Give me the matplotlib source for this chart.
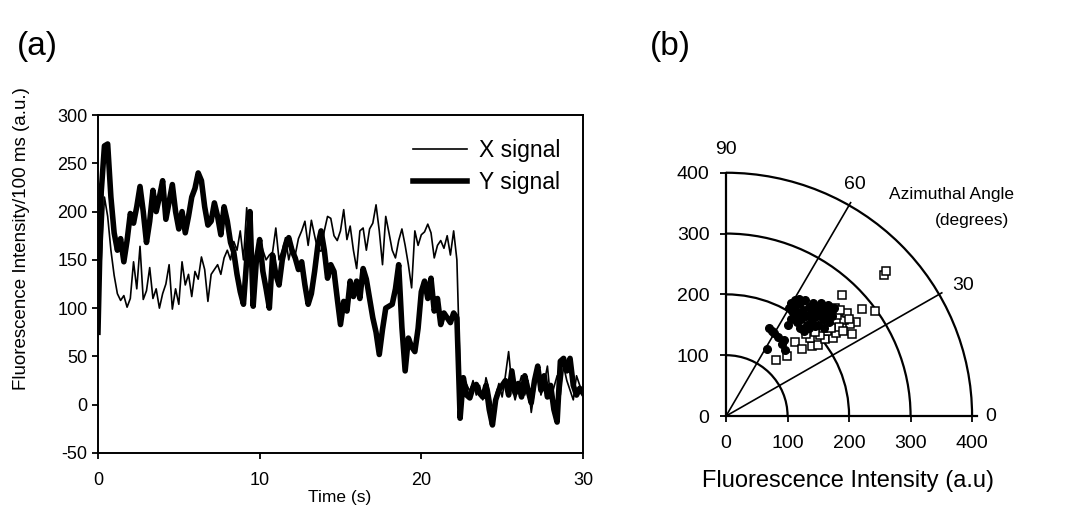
import numpy as np
import matplotlib
matplotlib.use("Agg")
import matplotlib.pyplot as plt
from matplotlib.patches import Arc

plt.rcParams["font.family"] = ["Liberation Sans", "DejaVu Sans"]
plt.rcParams["axes.unicode_minus"] = False

# ---------------------------------------
# Data — panel (a): intensity traces, 0.2 s bins
# ---------------------------------------

y_signal = [
    75, 220, 268, 270, 215,   178, 160, 172, 148, 170,
    198, 188, 205, 226, 200,  168, 190, 222, 200, 215,
    232, 192, 210, 228, 200,  182, 200, 178, 195, 215,
    224, 240, 232, 205, 186,  190, 209, 195, 176, 205,
    190, 168, 158, 135, 117,  104, 150, 200, 102, 150,
    171, 138, 120, 100, 155,  135, 124, 150, 165, 173,
    160, 152, 140, 148, 124,  104, 115, 138, 165, 180,
    160, 131, 145, 138, 110,  83, 107, 97, 128, 112,
    128, 110, 141, 130, 110,  90, 75, 52, 78, 100,
    102, 104, 120, 145, 80,   35, 69, 60, 55, 79,
    117, 128, 110, 131, 97,   110, 83, 95, 90, 85,
    95, 90, -14, 28, 10,      7, 18, 21, 12, 8,
    20, -5, -21, 5, 15,       20, 25, 10, 35, 12,
    22, 8, 30, 15, 2,         25, 40, 15, 30, 8,
    20, -5, -18, 45, 48,      35, 48, 20, 10, 17,
    12,
]

x_signal = [
    80, 150, 215, 195, 160,   134, 115, 108, 113, 101,
    110, 148, 120, 164, 109,  118, 142, 110, 120, 100,
    115, 125, 145, 99, 120,   104, 148, 124, 135, 112,
    138, 130, 153, 140, 107,  135, 140, 145, 135, 152,
    160, 150, 169, 160, 180,  150, 204, 160, 140, 155,
    173, 160, 150, 155, 158,  183, 150, 160, 173, 150,
    165, 155, 172, 180, 190,  165, 191, 175, 160, 159,
    180, 195, 193, 175, 170,  180, 202, 171, 185, 160,
    141, 180, 183, 160, 182,  188, 207, 180, 145, 195,
    178, 160, 152, 170, 182,  165, 145, 121, 180, 165,
    176, 179, 187, 178, 152,  165, 170, 162, 175, 155,
    180, 150, 31, 18, 21,     14, 25, 10, 20, 5,
    28, 15, -5, 10, 22,       8, 30, 55, 20, 5,
    18, 30, 10, 25, -8,       15, 35, 10, 22, 40,
    5, 18, 30, 10, 40,        25, 15, 5, 30, 20,
    10,
]

time_s = np.arange(len(y_signal)) * 0.2

# ---------------------------------------
# Data — panel (b): X vs Y intensity per frame
# ---------------------------------------

filled_x = [70, 74, 78, 85, 66, 91, 96, 94, 100, 105, 108, 110, 112, 115, 118, 120,
            122, 125, 128, 130, 132, 135, 138, 140, 142, 145, 148, 150, 152, 155,
            158, 160, 163, 165, 168, 170, 173, 175, 120, 127, 135, 145, 112, 118,
            102, 106, 160, 155]
filled_y = [145, 140, 136, 130, 110, 118, 109, 125, 150, 160, 172, 165, 180, 155, 170, 185,
            160, 175, 190, 165, 150, 180, 170, 158, 185, 175, 165, 150, 180, 170,
            160, 175, 168, 182, 155, 172, 165, 178, 145, 140, 145, 148, 190, 192,
            178, 185, 145, 185]

open_x = [256, 260, 188, 221, 242, 82, 99, 112, 123, 139, 150, 161, 174, 179, 205, 211,
          202, 191, 180, 166, 164, 177, 152, 137, 183, 196, 170, 190, 158, 145, 200,
          185, 130]
open_y = [232, 239, 199, 176, 173, 92, 99, 122, 111, 115, 117, 126, 128, 136, 135, 154,
          151, 158, 166, 155, 139, 177, 133, 128, 147, 169, 145, 140, 145, 138, 160,
          175, 135]

grid_radii = [100, 200, 300, 400]
spoke_angles = [30, 60]
angle_labels = ["0", "30", "60", "90"]

fig = plt.figure(figsize=(10.79, 5.31), dpi=100)

# ---------------------------------------
# Panel (a) — time traces
# ---------------------------------------

ax1 = fig.add_axes([0.0908, 0.1469, 0.4495, 0.6365])
ax1.plot(time_s, x_signal, color="black", lw=1.2, label="X signal")
ax1.plot(time_s, y_signal, color="black", lw=4, label="Y signal")
ax1.set_xlim(0, 30)
ax1.set_ylim(-50, 300)
ax1.set_xticks([0, 10, 20, 30])
ax1.set_yticks(range(-50, 301, 50))
ax1.tick_params(direction="out", length=4, width=1.3, labelsize=13, right=False, top=False)
ax1.tick_params(axis="x", pad=10)
for s in ax1.spines.values():
    s.set_linewidth(1.4)
ax1.set_xlabel("Time (s)", fontsize=12.5)
ax1.xaxis.set_label_coords(0.499, -0.11)
ax1.set_ylabel("Fluorescence Intensity/100 ms (a.u.)", fontsize=13.5)
ax1.yaxis.set_label_coords(-0.14, 0.633)
ax1.legend(loc="upper right", frameon=False, fontsize=16.5, handlelength=2.36,
           handletextpad=0.52, labelspacing=0.4, bbox_to_anchor=(0.995, 0.99))

fig.text(0.016, 0.897, "(a)", fontsize=24)
fig.text(0.602, 0.897, "(b)", fontsize=24)

# ---------------------------------------
# Panel (b) — quarter polar grid
# ---------------------------------------

ax2 = fig.add_axes([0.6672, 0.2051, 0.2565, 0.4925])
ax2.set_xlim(-10, 440)
ax2.set_ylim(-10, 420)

for r in grid_radii:
    ax2.add_patch(Arc((0, 0), 2 * r, 2 * r, theta1=0, theta2=90,
                      color="black", lw=1.6, clip_on=False))
for a in spoke_angles:
    rad = np.deg2rad(a)
    ax2.plot([0, 405 * np.cos(rad)], [0, 405 * np.sin(rad)], color="black",
             lw=1.2, clip_on=False)

ax2.plot(open_x, open_y, ls="none", marker="s", ms=6, mfc="white", mec="black",
         mew=1.1, clip_on=False)
ax2.plot(filled_x, filled_y, ls="none", marker="o", ms=5.5, mfc="black", mec="black",
         clip_on=False)

for s in ["top", "right"]:
    ax2.spines[s].set_visible(False)
ax2.spines["left"].set_position(("data", 0))
ax2.spines["bottom"].set_position(("data", 0))
ax2.spines["left"].set_bounds(0, 400)
ax2.spines["bottom"].set_bounds(0, 408)
ax2.spines["left"].set_linewidth(1.6)
ax2.spines["bottom"].set_linewidth(1.6)
ax2.set_xticks([0, 100, 200, 300, 400])
ax2.set_yticks([0, 100, 200, 300, 400])
ax2.tick_params(direction="out", length=4, width=1.3, labelsize=14)
ax2.tick_params(axis="x", pad=10)
ax2.tick_params(axis="y", pad=8)

# angle labels around the outer arc
ax2.text(0, 438, angle_labels[3], fontsize=14, ha="center", va="center")
ax2.text(210, 380, angle_labels[2], fontsize=14, ha="center", va="center")
ax2.text(385, 214, angle_labels[1], fontsize=14, ha="center", va="center")
ax2.text(430, 0, angle_labels[0], fontsize=14, ha="center", va="center")

ax2.text(367, 365, "Azimuthal Angle", fontsize=12.5, ha="center", va="center")
ax2.text(400, 322, "(degrees)", fontsize=12.5, ha="center", va="center")
ax2.set_xlabel("Fluorescence Intensity (a.u)", fontsize=17)
ax2.xaxis.set_label_coords(0.463, -0.183)

fig.savefig("out.png", dpi=100)
